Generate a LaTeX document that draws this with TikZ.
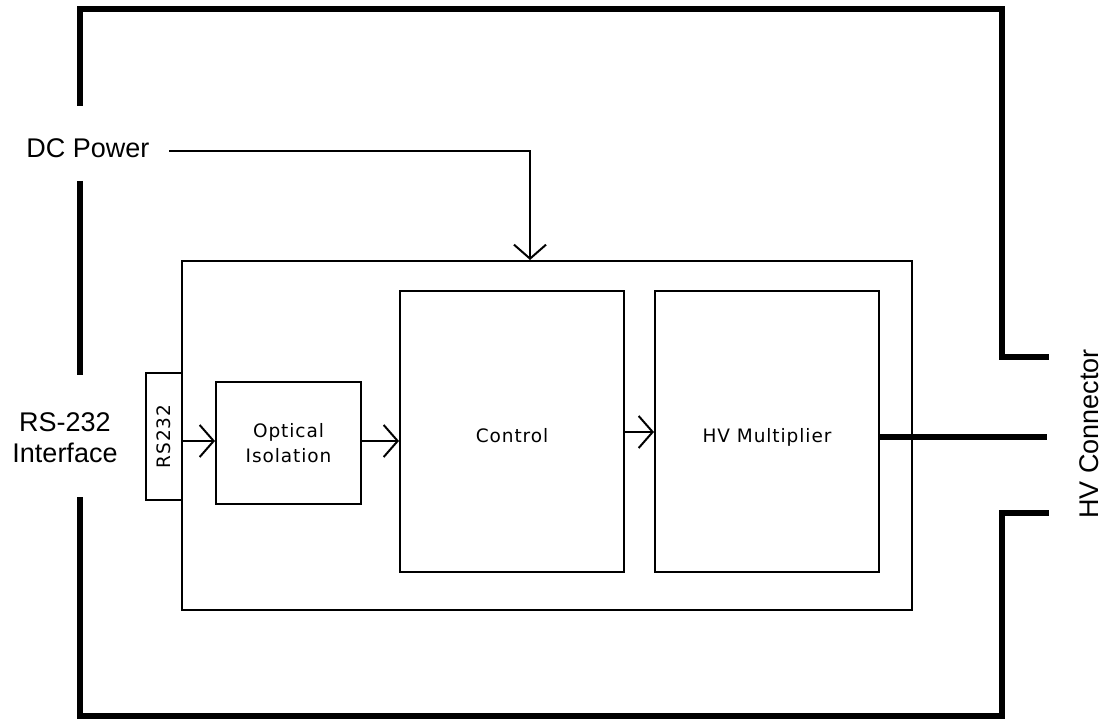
\documentclass[tikz,border=0pt]{standalone}
\usepackage{fontspec}
\setmainfont{Liberation Sans}
\newfontfamily\boxfont[LetterSpace=5]{DejaVu Sans}
\usetikzlibrary{arrows.meta}
\begin{document}
\begin{tikzpicture}[x=1pt,y=-1pt,
  wire/.style={line width=2pt},
  frame/.style={line width=6pt, line join=miter},
  blk/.style={draw, line width=2pt, inner sep=0pt},
  arr/.style={line width=2pt, -{Straight Barb[length=14pt,width=32pt]}},
  big/.style={font=\fontsize{27}{31}\selectfont},
  small/.style={font=\boxfont\fontsize{18.5}{25}\selectfont},
  lowtext/.style={text height=21.5pt, text depth=0pt},
]
\path[use as bounding box] (0,0) rectangle (1104,719);

% blocks
\node[blk, minimum width=730pt, minimum height=349pt] (main) at (547,435.5) {};
\node[blk, minimum width=36pt, minimum height=127pt,
      label={[small, rotate=90]center:RS232}] (rs) at (164,436.5) {};
\node[blk, small, align=center, minimum width=145pt, minimum height=122pt] (opt) at (288.5,443) {Optical\\Isolation};
\node[blk, small, lowtext, minimum width=224pt, minimum height=281pt] (ctrl) at (512,431.5) {Control};
\node[blk, small, lowtext, minimum width=224pt, minimum height=281pt] (hv) at (767,431.5) {HV Multiplier};

% outside labels
\node[big, anchor=base, inner xsep=19.5pt] (dc) at (88,158) {DC Power};
\node[big, align=center, inner sep=0pt] (rsif) at (65,438) {RS-232\\Interface};
\node[big, rotate=90, inner sep=0pt] (hvc) at (1089,434) {HV Connector};

% connectors
\coordinate (dcturn) at (530,151);
\draw[arr] (dc.east |- dcturn) -- (dcturn) -- (dcturn |- main.north);

\coordinate (a1) at (0,441);
\draw[arr] (rs.east |- a1) -- (opt.west |- a1);
\draw[arr] (opt.east |- a1) -- (ctrl.west |- a1);
\coordinate (a2) at (0,432);
\draw[arr] (ctrl.east |- a2) -- (hv.west |- a2);
\coordinate (hvend) at (1047,437);
\draw[frame] (hv.east |- hvend) -- (hvend);

% enclosure
\draw[frame] (80,106) -- (80,9) -- (1002,9) -- (1002,357) -- (1049,357);
\draw[frame] (80,181) -- (80,375);
\draw[frame] (80,497) -- (80,716) -- (1002,716) -- (1002,513) -- (1049,513);
\end{tikzpicture}
\end{document}
